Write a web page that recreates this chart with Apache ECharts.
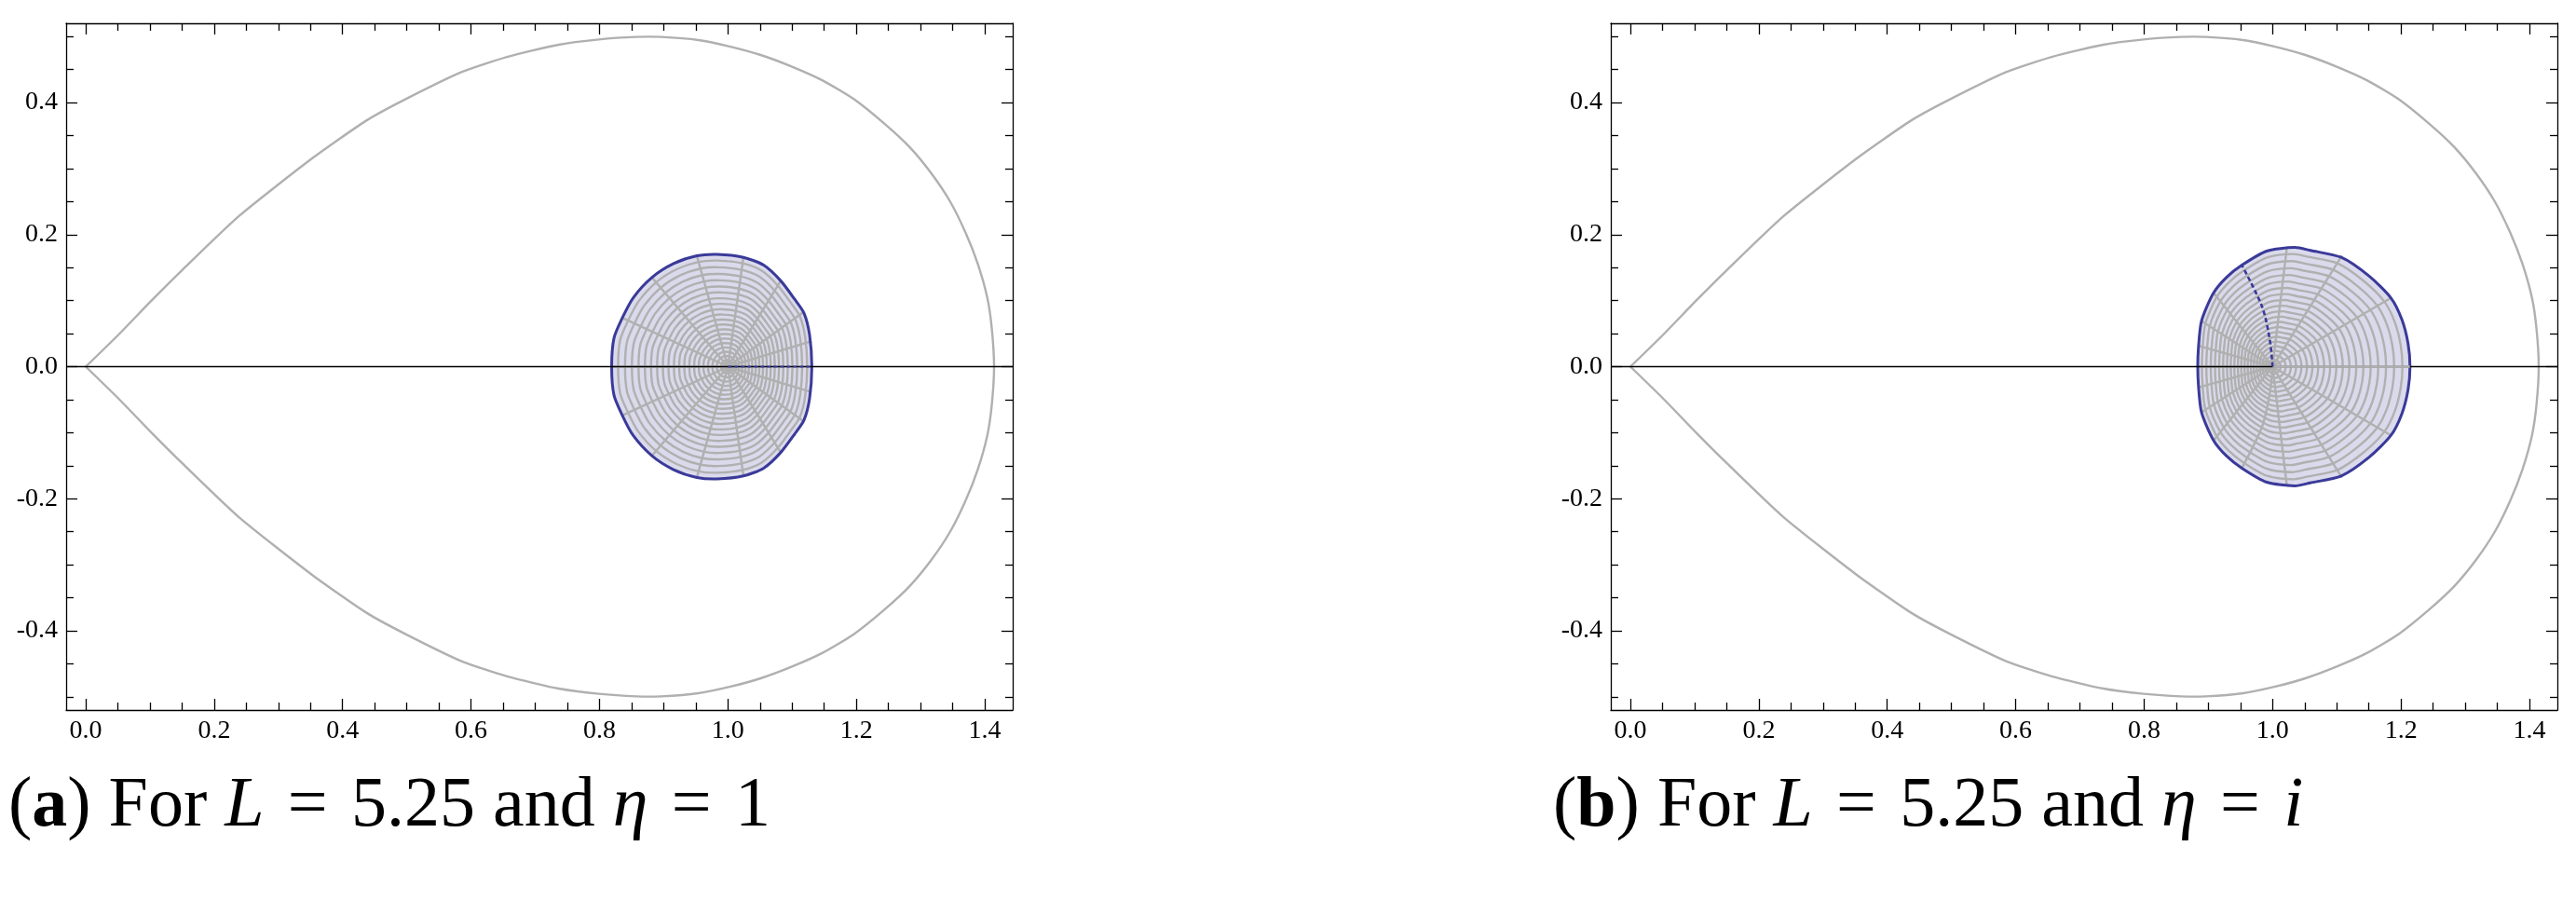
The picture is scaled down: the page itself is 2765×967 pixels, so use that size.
<!DOCTYPE html>
<html>
<head>
<meta charset="utf-8">
<script src="https://cdn.jsdelivr.net/npm/echarts@6/dist/echarts.min.js"></script>
<style>
  html, body { margin: 0; background: #fff; }
  #chart { width: 2765px; height: 967px; }
</style>
</head>
<body>
<div id="chart"></div>
<script>
// axis ranges and ticks
const xRange = [-0.0305, 1.4435]
const yRange = [-0.52, 0.52]
const xMajor = [0, 0.2, 0.4, 0.6, 0.8, 1.0, 1.2, 1.4]
const xMinor = [0.05, 0.1, 0.15, 0.25, 0.3, 0.35, 0.45, 0.5, 0.55, 0.65, 0.7, 0.75,
  0.85, 0.9, 0.95, 1.05, 1.1, 1.15, 1.25, 1.3, 1.35]
const yMajor = [-0.4, -0.2, 0, 0.2, 0.4]
const yMinor = [-0.5, -0.45, -0.35, -0.3, -0.25, -0.15, -0.1, -0.05,
  0.05, 0.1, 0.15, 0.25, 0.3, 0.35, 0.45, 0.5]

// outer teardrop, upper half (lower half is its mirror)
const teardropUpper = [
  [0, 0], [0.0507, 0.048], [0.102, 0.0996], [0.151, 0.147], [0.2386, 0.228],
  [0.352, 0.315], [0.436, 0.372], [0.494, 0.403], [0.585, 0.446], [0.656, 0.469],
  [0.7366, 0.4876], [0.799, 0.4955], [0.857, 0.4993], [0.896, 0.4993], [0.954, 0.4946],
  [1.0025, 0.485], [1.051, 0.472], [1.099, 0.4546], [1.1475, 0.4334], [1.196, 0.4052],
  [1.244, 0.3677], [1.283, 0.3324], [1.317, 0.2924], [1.346, 0.2501], [1.37, 0.2031],
  [1.389, 0.156], [1.404, 0.104], [1.411, 0.0574], [1.4145, 0]
]

// image region, panel (a): upper boundary from right to left
const centerA = [1.0, 0]
const blobAUpper = [
  [1.1307, 0], [1.1272, 0.048], [1.1185, 0.081], [1.104, 0.102], [1.0823, 0.13],
  [1.0557, 0.1537], [1.0242, 0.1655], [0.9832, 0.17], [0.9517, 0.1678], [0.9154, 0.156],
  [0.8816, 0.135], [0.8526, 0.1044], [0.8356, 0.0738], [0.8226, 0.0433], [0.819, 0]
]
const spokeEndsA = [
  [1.1305, 0.0385], [1.1185, 0.0832], [1.0823, 0.13], [1.0242, 0.1655],
  [0.9517, 0.1678], [0.8816, 0.135], [0.8356, 0.0738]
]

// image region, panel (b)
const centerB = [1.0, 0]
const blobBUpper = [
  [1.214, 0], [1.211, 0.035], [1.2013, 0.0715], [1.1844, 0.104], [1.1505, 0.137],
  [1.1069, 0.1655], [1.0587, 0.176], [1.0344, 0.1805], [0.9909, 0.175], [0.9522, 0.1537],
  [0.928, 0.135], [0.9077, 0.111], [0.8893, 0.069], [0.8846, 0.029], [0.8835, 0]
]
const spokeEndsB = [
  [1.1844, 0.104], [1.108, 0.168], [1.0223, 0.1805],
  [0.9087, 0.111], [0.8893, 0.069], [0.8846, 0.0315]
]
const seamB = [[1.0, 0], [0.996, 0.0385], [0.984, 0.09], [0.9522, 0.1537]]

// mesh rings, as fraction of the way from centre to boundary
const ringLevels = [0.945, 0.885, 0.826, 0.769, 0.714, 0.661, 0.609, 0.559, 0.511, 0.464,
  0.419, 0.375, 0.332, 0.29, 0.25, 0.21, 0.171, 0.133, 0.095, 0.058]

const GRAY = "#b0b0b0"
const FILL = "#dadaec"
const BLUE = "#3a3a9a"
const FONT = "Liberation Serif"
const SMOOTH = 0.25

const mirror = (p) => [p[0], -p[1]]
const loopOf = (upper) => upper.concat(upper.slice(1, -1).reverse().map(mirror))
const teardrop = teardropUpper.concat(teardropUpper.slice(0, -1).reverse().map(mirror))

function renderPanel(center, blobUpper, spokeEnds, panel) {
  const loop = loopOf(blobUpper)
  const rightEnd = blobUpper[0]
  const leftEnd = blobUpper[blobUpper.length - 1]
  return function (params, api) {
    const pt = (p) => api.coord(p)
    const line = (pts, color, width, extra) => ({
      type: "polyline",
      shape: { points: pts.map(pt), smooth: (extra && extra.smooth) || 0 },
      style: { stroke: color, lineWidth: width, fill: null, lineDash: extra && extra.dash }
    })
    const children = []
    children.push(line(teardrop, GRAY, 2.4, { smooth: 0.2 }))
    children.push({
      type: "polygon",
      shape: { points: loop.map(pt), smooth: SMOOTH },
      style: { fill: FILL, stroke: null }
    })
    ringLevels.forEach((f) => {
      const ring = loop.map((p) => [center[0] + f * (p[0] - center[0]), center[1] + f * (p[1] - center[1])])
      children.push({
        type: "polygon",
        shape: { points: ring.map(pt), smooth: SMOOTH },
        style: { fill: null, stroke: GRAY, lineWidth: 2.4 }
      })
    })
    spokeEnds.concat(spokeEnds.map(mirror)).forEach((e) => {
      children.push(line([center, e], GRAY, 2.4))
    })
    children.push(line([center, leftEnd], GRAY, 2.4))
    if (panel === "b") children.push(line(seamB.map(mirror), GRAY, 2.4, { smooth: 0.3 }))
    children.push({
      type: "polygon",
      shape: { points: loop.map(pt), smooth: SMOOTH },
      style: { fill: null, stroke: BLUE, lineWidth: 3 }
    })
    // horizontal line at y = 0
    children.push(line([[xRange[0], 0], [xRange[1], 0]], "#000", 1.5))
    if (panel === "a") {
      children.push(line([center, rightEnd], BLUE, 2.2, { dash: [4, 3] }))
    } else {
      children.push(line([center, rightEnd], GRAY, 2.4))
      children.push(line(seamB, BLUE, 2.6, { smooth: 0.3, dash: [5, 3] }))
    }
    return { type: "group", children }
  }
}

function axis(dim, gridIndex, position, ticks, len, showLine, showLabel) {
  const range = dim === "x" ? xRange : yRange
  return {
    type: "value",
    gridIndex,
    position,
    min: range[0],
    max: range[1],
    axisLine: { show: showLine, onZero: false, lineStyle: { color: "#000", width: 1.3 } },
    axisTick: {
      show: true, inside: true, length: len, customValues: ticks,
      lineStyle: { color: "#000", width: 1.3 }
    },
    axisLabel: {
      show: showLabel, customValues: ticks, margin: 9,
      fontSize: 28, fontFamily: FONT, color: "#000",
      formatter: (v) => v.toFixed(1)
    },
    splitLine: { show: false }
  }
}

const xAxes = []
const yAxes = []
;[0, 1].forEach((g) => {
  xAxes.push(axis("x", g, "bottom", xMajor, 12, true, true))
  xAxes.push(axis("x", g, "bottom", xMinor, 8, false, false))
  xAxes.push(axis("x", g, "top", xMajor, 12, true, false))
  xAxes.push(axis("x", g, "top", xMinor, 8, false, false))
  yAxes.push(axis("y", g, "left", yMajor, 12, true, true))
  yAxes.push(axis("y", g, "left", yMinor, 8, false, false))
  yAxes.push(axis("y", g, "right", yMajor, 12, true, false))
  yAxes.push(axis("y", g, "right", yMinor, 8, false, false))
})

const captionRich = {
  p: { fontSize: 76, fontFamily: FONT, fontWeight: "normal", color: "#000", lineHeight: 90 },
  b: { fontSize: 76, fontFamily: FONT, fontWeight: "bold", color: "#000", lineHeight: 90 },
  i: { fontSize: 76, fontFamily: FONT, fontWeight: "normal", fontStyle: "italic", color: "#000", lineHeight: 90 }
}
const EQ = "\u2004=\u2004"

const option = {
  backgroundColor: "#fff",
  animation: false,
  title: [
    {
      left: 9, top: 821, padding: 0,
      text: "{p|(}{b|a}{p|) For }{i|L}{p|" + EQ + "5.25 and }{i|η}{p|" + EQ + "1}",
      textStyle: { fontWeight: "normal", rich: captionRich }
    },
    {
      left: 1667, top: 821, padding: 0,
      text: "{p|(}{b|b}{p|) For }{i|L}{p|" + EQ + "5.25 and }{i|η}{p|" + EQ + "}{i|i}",
      textStyle: { fontWeight: "normal", rich: captionRich }
    }
  ],
  grid: [
    { left: 71, top: 25, width: 1016, height: 737, outerBoundsMode: "none" },
    { left: 1729, top: 25, width: 1016, height: 737, outerBoundsMode: "none" }
  ],
  xAxis: xAxes,
  yAxis: yAxes,
  series: [
    {
      type: "custom", coordinateSystem: "cartesian2d",
      xAxisIndex: 0, yAxisIndex: 0, silent: true,
      data: [[1, 0]],
      renderItem: renderPanel(centerA, blobAUpper, spokeEndsA, "a")
    },
    {
      type: "custom", coordinateSystem: "cartesian2d",
      xAxisIndex: 4, yAxisIndex: 4, silent: true,
      data: [[1, 0]],
      renderItem: renderPanel(centerB, blobBUpper, spokeEndsB, "b")
    }
  ]
}

const chart = echarts.init(document.getElementById("chart"), null, { renderer: "canvas" })
chart.setOption(option)
</script>
</body>
</html>
